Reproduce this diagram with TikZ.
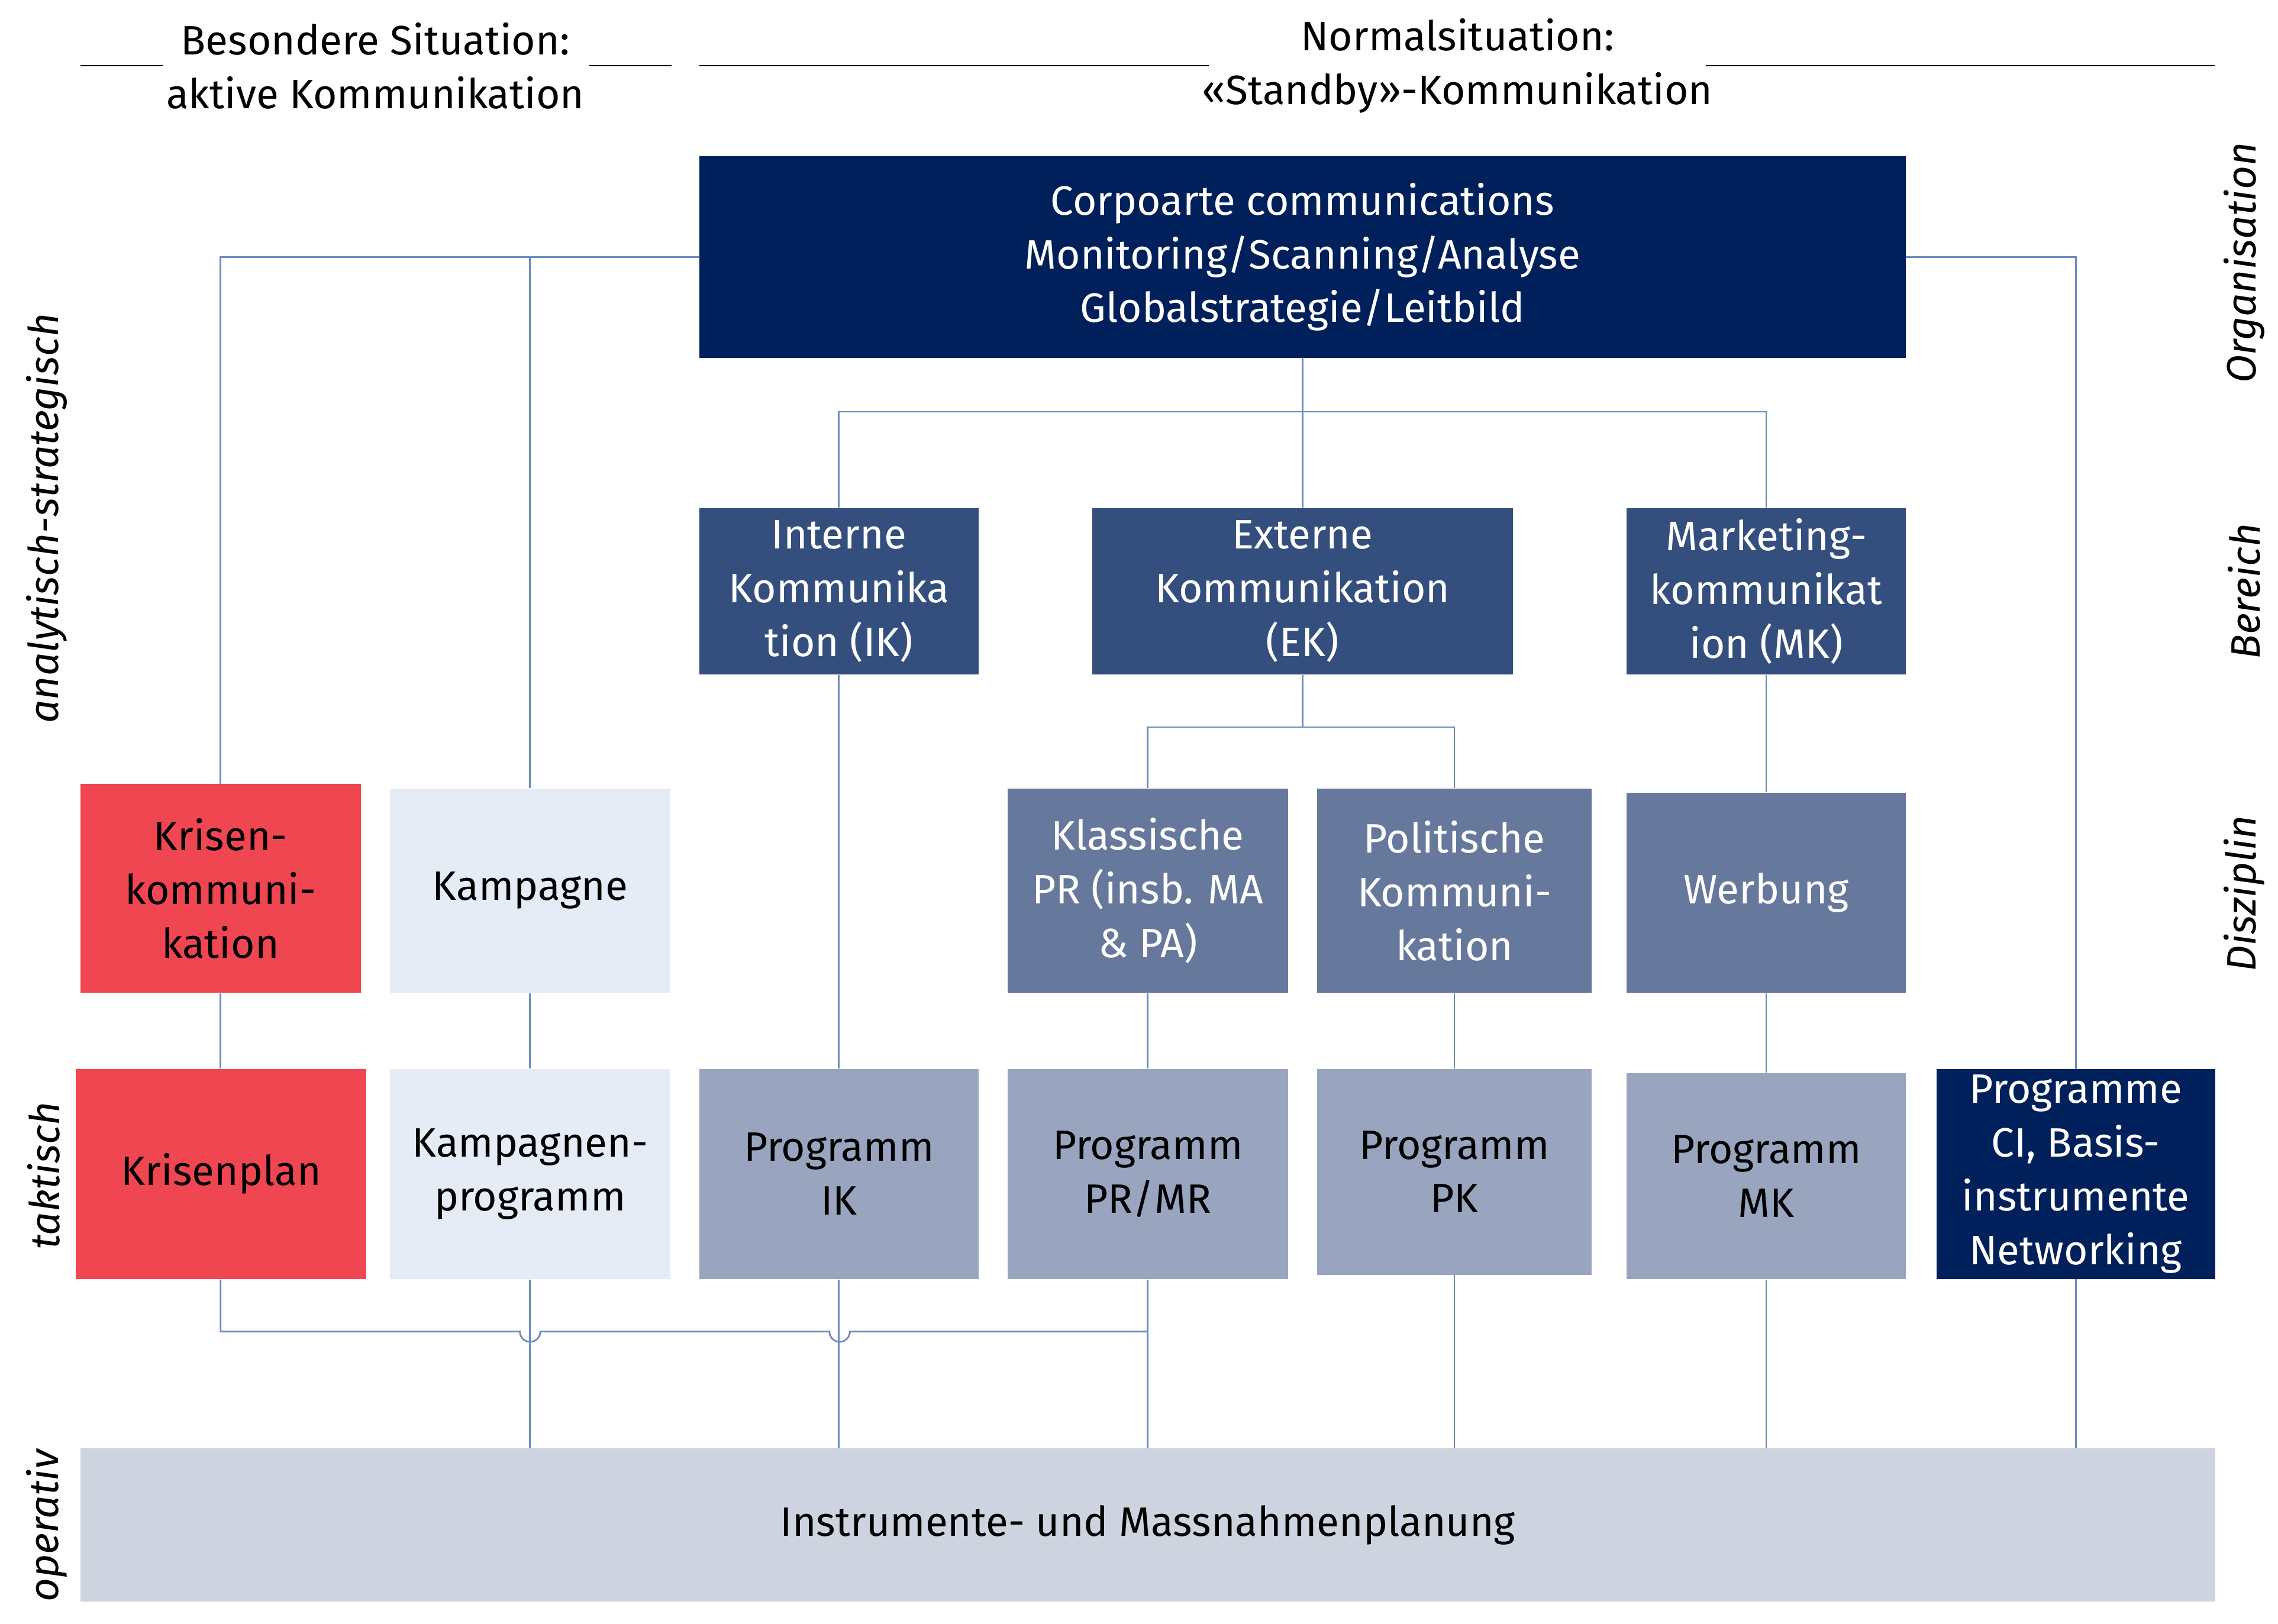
\documentclass[tikz,border=0pt]{standalone}
\usepackage{fontspec}
\setmainfont{Fira Sans}
\begin{document}
\definecolor{navy}{HTML}{00205B}
\definecolor{bere}{HTML}{344F7E}
\definecolor{disz}{HTML}{66789C}
\definecolor{prog}{HTML}{99A5BF}
\definecolor{lite}{HTML}{E6ECF6}
\definecolor{kred}{HTML}{EF4651}
\definecolor{botc}{HTML}{CDD3DF}
\definecolor{lnc}{HTML}{6A8BC0}
\begin{tikzpicture}[x=0.025cm,y=-0.025cm,
  every node/.style={font=\fontsize{20}{26.2}\selectfont},
  box/.style={draw=none,inner sep=0pt,align=center},
  wbox/.style={box,text=white},
  ln/.style={draw=lnc,line width=0.8pt},
  hd/.style={draw=black,line width=0.6pt},
  side/.style={rotate=90,font=\fontsize{20}{24}\selectfont\itshape}]
\useasboundingbox (0,0) rectangle (1560,1112);
% headers
\node[align=center] (h1) at (257,45) {Besondere Situation:\\aktive Kommunikation};
\node[align=center] (h2) at (998,45) {Normalsituation:\\«Standby»-Kommunikation};
\coordinate (a1) at (55,45); \coordinate (a2) at (112,45);
\coordinate (a3) at (403,45); \coordinate (a4) at (460,45);
\coordinate (a5) at (479,45); \coordinate (a6) at (828,45);
\coordinate (a7) at (1168,45); \coordinate (a8) at (1517,45);
\draw[hd] (a1)--(a2) (a3)--(a4) (a5)--(a6) (a7)--(a8);
% side labels
\node[side] (s1) at (1537,180) {Organisation};
\node[side] (s2) at (1537,405) {Bereich};
\node[side] (s3) at (1537,612) {Disziplin};
\node[side] (s4) at (32,355) {analytisch-strategisch};
\node[side] (s5) at (30,805) {taktisch};
\node[side] (s6) at (32,1045) {operativ};
\coordinate (j1) at (892,282);
\coordinate (j2) at (892,498);
% boxes
\path
 node[wbox,fill=navy,minimum width={826*0.025cm},minimum height={138*0.025cm}] (top) at (892,176) {Corpoarte communications\\Monitoring/Scanning/Analyse\\Globalstrategie/Leitbild}
 node[wbox,fill=bere,minimum width={191*0.025cm},minimum height={114*0.025cm}] (ik) at (574.5,405) {Interne\\Kommunika\\tion (IK)}
 node[wbox,fill=bere,minimum width={288*0.025cm},minimum height={114*0.025cm}] (ek) at (892,405) {Externe\\Kommunikation\\(EK)}
 node[wbox,fill=bere,minimum width={191*0.025cm},minimum height={114*0.025cm}] (mk) at (1209.5,405) {Marketing-\\kommunikat\\ion (MK)}
 node[box,fill=kred,minimum width={192*0.025cm},minimum height={143*0.025cm}] (krisen) at (151,608.5) {Krisen-\\kommuni-\\kation}
 node[box,fill=lite,minimum width={192*0.025cm},minimum height={140*0.025cm}] (kamp) at (363,610) {Kampagne}
 node[wbox,fill=disz,minimum width={192*0.025cm},minimum height={140*0.025cm}] (klass) at (786,610) {Klassische\\PR (insb. MA\\\& PA)}
 node[wbox,fill=disz,minimum width={188*0.025cm},minimum height={140*0.025cm}] (polit) at (996,610) {Politische\\Kommuni-\\kation}
 node[wbox,fill=disz,minimum width={191*0.025cm},minimum height={137*0.025cm}] (werb) at (1209.5,611.5) {Werbung}
 node[box,fill=kred,minimum width={199*0.025cm},minimum height={144*0.025cm}] (kplan) at (151.5,804) {Krisenplan}
 node[box,fill=lite,minimum width={192*0.025cm},minimum height={144*0.025cm}] (kprog) at (363,804) {Kampagnen-\\programm}
 node[box,fill=prog,minimum width={191*0.025cm},minimum height={144*0.025cm}] (pik) at (574.5,804) {Programm\\IK}
 node[box,fill=prog,minimum width={192*0.025cm},minimum height={144*0.025cm}] (ppr) at (786,804) {Programm\\PR/MR}
 node[box,fill=prog,minimum width={188*0.025cm},minimum height={141*0.025cm}] (ppk) at (996,802.5) {Programm\\PK}
 node[box,fill=prog,minimum width={191*0.025cm},minimum height={141*0.025cm}] (pmk) at (1209.5,805.5) {Programm\\MK}
 node[box,fill=botc,minimum width={1462*0.025cm},minimum height={105*0.025cm}] (bot) at (786,1044.5) {Instrumente- und Massnahmenplanung};
% connectors
\draw[ln] (top.west) -| (krisen.north);
\draw[ln] (kamp.north) |- (top.west);
\draw[ln] (top.south) -- (j1);
\draw[ln] (ik.north) |- (j1) -| (mk.north);
\draw[ln] (j1) -- (ek.north);
\draw[ln] (ek.south) -- (j2);
\draw[ln] (klass.north) |- (j2) -| (polit.north);
\draw[ln] (mk.south) -- (werb.north);
\draw[ln] (ik.south) -- (pik.north);
\draw[ln] (pik.south) -- (pik.south |- bot.north);
\draw[ln] (krisen.south) -- (krisen.south |- kplan.north);
\draw[ln] (kamp.south) -- (kprog.north);
\draw[ln] (klass.south) -- (ppr.north);
\draw[ln] (polit.south) -- (ppk.north);
\draw[ln] (werb.south) -- (pmk.north);
\coordinate (k1) at (151,912);
\draw[ln] (kplan.south -| k1) -- (k1) -- ++(205,0) arc[start angle=180,end angle=0,radius=7] -- ++(198,0) arc[start angle=180,end angle=0,radius=7] -- (ppr.south |- k1);
\draw[ln] (ppr.south) -- (ppr.south |- bot.north);
\draw[ln] (kprog.south) -- (kprog.south |- bot.north);
\draw[ln] (ppk.south) -- (ppk.south |- bot.north);
\draw[ln] (pmk.south) -- (pmk.south |- bot.north);
\coordinate (ciTop) at (1421.5,732);
\coordinate (ciBot) at (1421.5,876);
\draw[ln] (top.east) -| (ciTop);
\draw[ln] (ciBot) -- (ciBot |- bot.north);
\node[wbox,fill=navy,minimum width={191*0.025cm},minimum height={144*0.025cm}] (ci) at (1421.5,804) {Programme\\CI, Basis-\\instrumente\\Networking};
\end{tikzpicture}
\end{document}
